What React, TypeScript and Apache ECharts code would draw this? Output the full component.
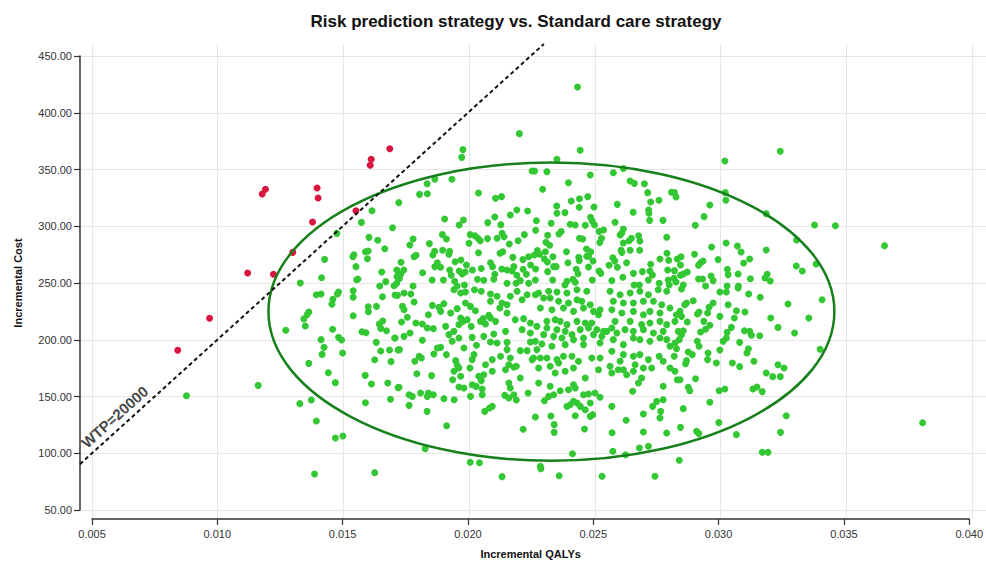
import React, { useEffect, useRef } from "react";
import * as echarts from "echarts";

const chartTitle = "Risk prediction strategy vs. Standard care strategy";
const xAxisName = "Incremental QALYs";
const yAxisName = "Incremental Cost";
const xTicks = { min: 0.005, max: 0.04, step: 0.005 };
const yTicks = { min: 50, max: 450, step: 50 };

const wtp = 20000;
const wtpLabel = "WTP=20000";
const wtpQalyRange = [0.00452, 0.02303];
const wtpLabelAt = [0.0059, 132];

// [centre QALY, centre cost, radius QALY, radius cost]
const ellipseParams = [0.02333, 224.8, 0.01129, 131.4];

const redPoints: number[][] = [
  [0.01688, 368.3], [0.01614, 359.0], [0.0161, 353.7], [0.01192, 332.6], [0.01179, 328.4],
  [0.01398, 333.7], [0.01402, 324.9], [0.01553, 313.7], [0.0138, 303.7], [0.01301, 277.0],
  [0.01121, 258.8], [0.01224, 257.7], [0.00969, 219.0], [0.00842, 190.7],
];

const greenLeft: number[][] = [
  [0.01617,313.7],[0.01575,303.4],[0.01699,298.7],[0.01477,293.7],[0.01605,290.2],[0.0164,287.6],[0.01668,280.2],[0.01428,270.8],[0.01545,274.9],[0.01541,273.2],[0.01591,277.6],[0.01602,278.2],[0.01599,271.4],[0.01553,264.4],[0.01656,259.7],[0.01416,254.7],[0.01331,250.0],[0.01556,252.9],[0.01561,253.5],[0.01672,251.2],[0.01648,247.3],[0.01705,247.6],[0.01717,255.6],[0.01542,243.2],[0.01484,242.1],[0.01479,240.3],[0.01461,235.6],[0.01457,231.2],[0.01395,239.7],[0.01414,240.3],[0.01659,237.9],[0.01709,239.4],[0.01542,237.4],[0.01635,229.4],[0.01602,229.1],[0.01603,224.7],[0.01365,224.4],[0.01358,222.1],[0.01345,218.3],[0.01351,212.1],[0.01542,221.2],[0.01273,208.3],[0.0146,209.2],[0.01577,207.1],[0.01593,206.2],[0.01646,213.9],[0.0166,216.5],[0.01652,210.0],[0.01675,208.0],[0.01708,201.5],[0.01721,190.9],[0.01414,200.1],[0.01484,202.1],[0.01496,199.8],[0.01634,197.7],[0.01652,190.1],[0.01687,190.9],[0.01426,193.3],[0.01418,187.1],[0.015,188.3],[0.01628,182.4],[0.01693,180.7],[0.01365,179.2],[0.01443,171.0],[0.0159,168.6],[0.01471,162.2],[0.01615,161.0],[0.0168,161.9],[0.01721,157.8],[0.01163,159.8],[0.00877,150.7],[0.01329,143.7],[0.01375,146.9],[0.01591,144.5],[0.01691,147.5],[0.01395,128.4],[0.01471,113.4],[0.01501,115.2],[0.01388,81.7],[0.01628,82.9],
];

const greenUpperMid: number[][] = [
  [0.02205,381.6],[0.0198,367.5],[0.01975,360.7],[0.01724,320.8],[0.02256,348.7],[0.01868,341.4],[0.01837,337.5],[0.01936,341.4],[0.01807,328.1],[0.01838,328.7],[0.02042,329.3],[0.0211,324.6],[0.02134,326.1],[0.01907,306.4],[0.01982,305.5],[0.01965,301.1],[0.02079,303.2],[0.02107,308.2],[0.02131,301.4],[0.02169,309.9],[0.02195,314.3],[0.02238,313.5],[0.02225,292.6],[0.01898,292.6],[0.01914,288.8],[0.01781,288.8],[0.01768,283.5],[0.01846,284.7],[0.02009,292.6],[0.02028,291.7],[0.0204,289.4],[0.02004,285.0],[0.02049,287.3],[0.02078,289.1],[0.02116,289.4],[0.02136,293.8],[0.02144,290.8],[0.02165,284.4],[0.022,287.3],[0.01867,277.9],[0.0186,274.7],[0.01899,278.8],[0.01927,277.9],[0.01924,275.3],[0.01785,273.2],[0.01793,274.4],[0.02042,276.7],[0.02128,276.2],[0.02139,277.6],[0.02179,272.6],[0.02219,270.6],[0.02242,273.2],[0.01733,268.2],[0.01878,267.9],[0.01868,264.4],[0.01891,263.8],[0.01949,268.8],[0.01972,270.3],[0.01994,265.9],[0.0209,267.9],[0.02098,264.4],[0.02135,262.4],[0.02156,261.5],[0.02176,260.6],[0.02183,264.4],[0.0222,262.1],[0.0225,265.9],[0.01716,261.5],[0.01744,261.5],[0.01732,258.0],[0.01727,254.1],[0.01819,259.1],[0.01927,261.5],[0.01933,256.8],[0.01965,260.6],[0.01989,259.7],[0.01977,258.0],[0.02018,261.5],[0.02053,262.7],[0.02107,257.7],[0.02195,256.8],[0.02209,252.1],[0.02233,257.7],[0.01857,252.7],[0.01902,252.7],[0.01947,251.5],[0.02038,253.3],[0.02063,252.4],[0.02103,253.3],[0.02156,249.7],[0.02192,249.7],[0.02242,249.7],[0.01716,249.7],[0.01781,247.4],[0.01957,247.4],[0.01986,248.3],
  [0.02437,422.7],[0.02448,366.9],[0.02355,359.0],[0.0262,350.8],[0.02266,348.7],[0.02315,348.1],[0.02488,345.2],[0.0258,347.2],[0.02401,338.4],[0.02647,339.9],[0.02664,337.8],[0.02704,337.5],[0.02298,332.6],[0.02717,329.6],[0.02812,329.9],[0.02478,326.1],[0.02445,324.3],[0.02412,322.3],[0.02729,321.4],[0.02762,322.9],[0.02354,317.9],[0.02355,311.4],[0.02444,316.7],[0.02503,317.0],[0.02596,319.3],[0.02387,312.0],[0.02659,312.3],[0.02721,314.3],[0.02722,311.4],[0.02489,307.9],[0.02496,304.7],[0.02505,301.1],[0.02725,305.2],[0.02778,305.2],[0.02273,304.9],[0.02587,303.5],[0.02332,302.6],[0.02408,301.7],[0.02428,301.1],[0.02468,300.8],[0.02541,296.7],[0.02523,295.5],[0.0262,297.6],[0.02614,294.1],[0.02607,292.3],[0.0227,296.4],[0.02363,293.2],[0.02372,295.3],[0.02793,290.3],[0.02318,292.0],[0.02445,289.4],[0.02458,288.8],[0.02681,291.7],[0.02686,287.0],[0.02652,289.4],[0.02643,287.3],[0.02533,289.4],[0.02526,285.6],[0.02311,285.9],[0.02326,283.2],[0.0262,285.3],[0.02393,277.6],[0.02473,280.0],[0.0249,277.6],[0.02611,278.8],[0.02614,277.0],[0.02647,278.8],[0.02685,278.8],[0.02794,276.2],[0.02277,278.5],[0.02286,275.3],[0.02265,274.7],[0.02309,277.6],[0.02442,272.6],[0.02474,273.5],[0.02481,273.5],[0.02339,273.2],[0.02578,272.3],[0.02766,271.2],[0.02801,270.0],[0.02305,271.2],[0.02317,268.5],[0.02499,269.4],[0.02399,267.9],[0.02444,269.7],[0.02563,265.6],[0.02586,269.4],[0.02633,267.9],[0.02729,266.5],[0.0227,262.4],[0.02318,260.0],[0.02342,264.4],[0.02352,264.4],[0.02432,262.1],[0.02439,258.2],[0.02481,264.1],[0.02523,260.6],[0.0253,258.5],[0.02596,263.8],[0.0266,258.5],[0.02696,260.0],[0.02726,260.6],[0.02736,257.1],[0.02797,261.5],[0.02269,252.7],[0.02338,252.7],[0.02395,251.5],[0.02419,253.3],[0.02428,250.6],[0.02496,252.7],[0.02574,252.1],[0.02618,255.0],[0.0272,252.7],[0.02763,249.7],[0.02799,252.7],[0.02803,248.3],[0.02663,248.3],[0.02684,248.3],[0.02387,248.3],
];

const greenUpperRight: number[][] = [
  [0.03246,366.0],[0.03025,357.5],[0.03027,329.6],[0.03029,322.9],[0.02824,329.6],[0.0283,325.8],[0.02965,318.8],[0.02942,308.5],[0.02907,300.8],[0.0319,311.1],[0.03311,287.9],[0.0303,285.3],[0.02972,281.7],[0.03075,282.6],[0.0309,277.3],[0.0319,279.1],[0.02904,275.3],[0.0285,273.2],[0.02835,271.2],[0.02998,270.6],[0.02938,269.4],[0.02928,267.9],[0.0292,265.6],[0.03124,271.2],[0.031,267.6],[0.02848,265.9],[0.0331,265.0],[0.03334,260.6],[0.03035,262.1],[0.02824,260.9],[0.02875,259.7],[0.02859,258.0],[0.02848,256.8],[0.0297,256.2],[0.02978,252.1],[0.03038,257.4],[0.03078,258.0],[0.03194,257.7],[0.03185,254.4],[0.03206,251.8],[0.03127,253.8],[0.0292,253.6],[0.02936,253.6],[0.02822,254.1],[0.0283,250.9],[0.03079,247.4],[0.02948,247.4],[0.02859,248.3],[0.03034,247.4],
  [0.03383,301.1],[0.03466,300.5],[0.03662,282.9],[0.03389,266.8],
];

const greenLowerMid: number[][] = [
  [0.01745,241.2],[0.01772,240.3],[0.01719,239.1],[0.01785,233.3],[0.01739,229.4],[0.01745,226.5],[0.01858,230.3],[0.01884,228.6],[0.01904,231.8],[0.01891,225.0],[0.01842,222.1],[0.01758,219.8],[0.01735,215.6],[0.01792,214.8],[0.01818,213.9],[0.01838,210.4],[0.01862,209.8],[0.01769,206.0],[0.01745,203.0],[0.01709,201.5],[0.01818,199.5],[0.01944,244.1],[0.01971,241.2],[0.0199,242.1],[0.02026,244.1],[0.02053,242.7],[0.0209,240.3],[0.02116,238.3],[0.0209,233.9],[0.0199,232.4],[0.0201,229.4],[0.0203,225.6],[0.01931,223.6],[0.01957,227.4],[0.01971,219.2],[0.0198,216.2],[0.01964,213.3],[0.01911,211.8],[0.01944,207.4],[0.01924,204.5],[0.01997,217.7],[0.02013,211.8],[0.0205,216.2],[0.0207,213.9],[0.02061,218.6],[0.02083,221.5],[0.0209,219.2],[0.02127,228.0],[0.02136,232.4],[0.02156,230.9],[0.02169,238.3],[0.02196,242.7],[0.02216,235.3],[0.02236,239.7],[0.02156,223.6],[0.02189,217.7],[0.02222,218.6],[0.02249,214.8],[0.0211,216.2],[0.0215,207.4],[0.02216,208.9],[0.02249,206.0],[0.02103,205.1],[0.02063,203.0],[0.02017,202.1],[0.01964,201.5],[0.01937,198.6],[0.02034,195.1],[0.0209,198.0],[0.02116,197.1],[0.02156,197.7],[0.02156,191.3],[0.02209,190.4],[0.02236,190.4],[0.02249,198.0],[0.01727,191.3],[0.01878,192.7],[0.01891,193.3],[0.01914,186.9],[0.01864,187.4],[0.01984,192.7],[0.01805,185.4],[0.01814,183.9],[0.01788,181.0],[0.02024,186.9],[0.02017,182.5],[0.0207,178.0],[0.02097,182.5],[0.0213,185.4],[0.02169,183.9],[0.02163,178.0],[0.02183,175.7],[0.02193,176.6],[0.02256,182.5],[0.01951,181.6],[0.01964,175.1],[0.01957,177.5],[0.02008,175.1],[0.01971,167.8],[0.01944,172.2],[0.02043,167.8],[0.02063,169.2],[0.02097,172.2],[0.0215,173.6],[0.01796,170.1],[0.01855,168.4],[0.01939,164.8],[0.02163,161.9],[0.02169,157.5],[0.02209,166.3],[0.01725,158.1],[0.01964,158.4],[0.01984,157.5],[0.02017,160.4],[0.02033,158.9],[0.02053,164.0],[0.02057,156.6],[0.02057,151.6],[0.0201,150.1],[0.01765,151.6],[0.01778,150.1],[0.01765,142.2],[0.01811,153.1],[0.01842,153.1],[0.01838,150.1],[0.01862,151.6],[0.01904,148.1],[0.01945,147.2],[0.02147,151.0],[0.02163,148.7],[0.02183,151.6],[0.02193,146.9],[0.0224,153.1],[0.02097,141.3],[0.02086,139.9],[0.02067,136.9],[0.01837,136.9],[0.01915,124.3],[0.0222,121.1],[0.01829,104.0],[0.02009,92.0],[0.02046,91.7],[0.02136,79.4],
  [0.02269,239.7],[0.02282,241.2],[0.02322,242.7],[0.02355,242.1],[0.02395,241.2],[0.02435,244.1],[0.02474,242.7],[0.02302,236.8],[0.02328,236.8],[0.02362,233.9],[0.02401,232.4],[0.02435,235.3],[0.02454,233.9],[0.02488,230.9],[0.02289,228.0],[0.02335,226.5],[0.02381,228.0],[0.02421,225.0],[0.02461,228.0],[0.02501,225.0],[0.02527,226.5],[0.02521,222.1],[0.02315,216.2],[0.02348,217.7],[0.02368,216.2],[0.02395,213.3],[0.02435,216.2],[0.02468,214.8],[0.02494,214.8],[0.02275,211.8],[0.02315,210.4],[0.02355,208.9],[0.02388,207.4],[0.02415,204.5],[0.02448,208.9],[0.02481,210.4],[0.02514,208.9],[0.02541,207.4],[0.02302,204.5],[0.02342,203.0],[0.02375,201.5],[0.02421,200.1],[0.02461,201.5],[0.02501,204.5],[0.02534,203.0],[0.02554,207.4],[0.02269,198.6],[0.02295,196.3],[0.02275,191.3],[0.02335,194.2],[0.02388,195.7],[0.02461,195.7],[0.02527,197.1],
  [0.02567,242.7],[0.02607,239.7],[0.02647,241.2],[0.02686,242.7],[0.0272,239.7],[0.02759,244.1],[0.02793,242.7],[0.0258,233.9],[0.0262,232.4],[0.0266,232.4],[0.027,233.9],[0.0274,233.9],[0.02773,230.9],[0.02806,228.0],[0.02574,226.5],[0.02614,223.6],[0.0266,225.0],[0.027,222.1],[0.02726,225.0],[0.02766,223.6],[0.02587,216.2],[0.02647,216.2],[0.02693,213.3],[0.02726,214.8],[0.02766,216.2],[0.02793,213.3],[0.02574,210.4],[0.02594,206.0],[0.02627,208.9],[0.0266,207.4],[0.027,208.9],[0.0274,206.0],[0.02779,207.4],[0.0258,200.1],[0.0262,195.7],[0.0266,201.5],[0.02686,200.1],[0.02726,198.6],[0.02766,201.5],[0.02793,200.1],[0.02574,189.8],[0.0262,186.9],[0.0266,185.4],[0.02686,186.9],[0.0272,182.5],[0.02763,185.4],[0.02806,194.2],
  [0.02262,183.9],[0.02289,183.9],[0.02315,183.9],[0.02355,182.5],[0.02381,185.4],[0.02415,185.4],[0.02441,181.0],[0.02282,175.1],[0.02328,176.6],[0.02362,179.5],[0.02421,175.1],[0.02388,172.2],[0.02348,170.7],[0.02494,183.9],[0.02527,183.9],[0.02567,176.6],[0.02607,181.0],[0.0262,173.6],[0.02633,169.2],[0.02574,170.7],[0.026,173.6],[0.02521,173.6],[0.02667,178.0],[0.027,175.1],[0.02693,166.3],[0.0268,161.9],[0.0266,172.2],[0.02733,175.1],[0.02779,181.0],[0.02806,175.1],[0.02468,166.3],[0.02282,161.9],
  [0.02421,160.4],[0.02428,157.5],[0.02401,156.0],[0.02368,155.1],[0.02328,159.0],[0.02322,150.1],[0.02342,151.6],[0.02305,146.3],[0.02461,151.6],[0.02481,152.2],[0.02507,153.1],[0.02527,149.3],[0.02488,144.3],[0.02435,144.3],[0.02448,141.3],[0.02395,141.3],[0.02408,142.8],[0.02421,145.7],[0.02574,141.3],[0.02657,154.6],[0.02779,159.0],[0.02779,147.2],[0.02753,145.7],[0.02737,141.3],[0.02468,138.4],[0.02498,134.0],[0.02488,132.5],[0.02428,133.1],[0.02269,131.9],[0.02331,132.8],[0.02344,125.2],[0.02344,118.4],[0.027,134.6],[0.02769,136.9],[0.02766,131.1],[0.02631,129.0],[0.02465,121.4],[0.02575,118.1],[0.027,118.7],[0.02793,117.8],[0.02417,99.6],[0.02578,101.7],[0.02629,98.7],[0.02684,104.6],[0.0272,106.1],[0.02289,88.5],[0.02291,86.4],[0.02364,80.2],[0.02535,79.7],[0.02746,79.7],
];

const greenLowerRight: number[][] = [
  [0.02852,244.7],[0.02899,234.4],[0.02872,232.4],[0.02865,230.9],[0.03005,242.1],[0.03031,242.1],[0.03078,245.6],[0.0312,240.3],[0.03166,237.4],[0.03277,231.5],[0.0336,219.2],[0.03208,219.2],[0.03237,210.9],[0.03303,205.9],[0.02846,225.0],[0.02832,222.1],[0.02852,220.6],[0.02826,216.2],[0.02875,215.6],[0.02916,222.7],[0.02922,224.5],[0.02956,223.6],[0.02962,228.6],[0.02978,232.4],[0.02941,216.2],[0.02965,212.7],[0.02948,209.2],[0.02928,206.8],[0.03005,220.6],[0.03038,230.9],[0.03071,225.6],[0.03063,219.2],[0.03105,224.5],[0.03051,210.9],[0.03034,206.5],[0.03031,201.5],[0.03018,198.6],[0.03103,208.0],[0.03124,207.4],[0.03131,203.9],[0.03164,203.6],[0.02839,207.4],[0.02859,208.0],[0.02852,204.5],[0.02843,200.1],[0.02826,197.1],[0.02832,192.1],[0.02823,185.4],[0.02915,198.6],[0.02922,194.2],[0.03005,191.0],[0.03084,197.7],[0.03119,192.1],[0.03113,188.3],[0.02958,188.3],[0.02956,182.5],[0.02879,189.2],[0.02895,186.9],[0.02872,181.6],[0.02868,178.9],[0.02991,179.5],[0.03055,179.5],[0.03084,176.3],[0.03141,181.0],[0.0319,170.7],[0.03216,167.5],[0.03246,167.5],[0.03237,178.0],[0.03261,175.1],[0.02826,172.2],[0.02835,164.8],[0.02846,164.8],[0.02908,165.7],[0.02879,158.1],[0.02885,155.1],[0.03002,155.1],[0.03025,156.6],[0.03137,156.6],[0.03153,158.4],[0.03174,154.3],[0.02859,139.3],[0.02965,144.9],[0.0327,133.1],[0.02848,122.8],[0.03001,127.0],[0.02912,119.3],[0.02921,117.3],[0.03071,116.4],[0.03247,118.4],[0.03174,100.8],[0.03197,100.8],[0.02843,93.8],
  [0.03413,235.3],[0.03405,191.6],[0.03814,126.9],
];

const greenPoints = [
  ...greenLeft,
  ...greenUpperMid,
  ...greenUpperRight,
  ...greenLowerMid,
  ...greenLowerRight,
];

const FONT = "Arial, 'Liberation Sans', sans-serif";
const GRID_COLOR = "#e6e6e6";
const AXIS_COLOR = "#333";

export default function App() {
  const ref = useRef<HTMLDivElement>(null);

  useEffect(() => {
    if (!ref.current) return;
    const chart = echarts.init(ref.current, null, { renderer: "svg" });
    const wtpLine = wtpQalyRange.map((q) => [q, q * wtp]);

    const option: any = {
      animation: false,
      backgroundColor: "#ffffff",
      title: {
        text: chartTitle,
        left: 511,
        top: 8,
        textAlign: "center",
        textStyle: { fontFamily: FONT, fontSize: 17, fontWeight: "bold", color: "#111" },
      },
      grid: [
        { left: 92, right: 14, top: 56, bottom: 54 },
        { left: 80, right: 0, top: 56, bottom: 54 },
        { left: 92, right: 14, top: 44, bottom: 45 },
      ],
      xAxis: [
        {
          type: "value",
          gridIndex: 0,
          min: xTicks.min,
          max: xTicks.max,
          interval: xTicks.step,
          offset: 9,
          name: xAxisName,
          nameLocation: "middle",
          nameGap: 29,
          nameTextStyle: { fontFamily: FONT, fontSize: 11, fontWeight: "bold", color: "#111" },
          axisLine: { show: true, onZero: false, lineStyle: { color: AXIS_COLOR, width: 1.5 } },
          axisTick: { show: true, length: 6, lineStyle: { color: AXIS_COLOR, width: 1.2 } },
          axisLabel: {
            formatter: (v: number) => v.toFixed(3),
            fontFamily: FONT,
            fontSize: 11,
            color: "#333",
            margin: 9,
          },
          splitLine: { show: false },
        },
        { type: "value", gridIndex: 1, min: 0, max: 1, show: false },
        {
          type: "value",
          gridIndex: 2,
          min: xTicks.min,
          max: xTicks.max,
          interval: xTicks.step,
          axisLine: { show: false },
          axisTick: { show: false },
          axisLabel: { show: false },
          splitLine: { show: true, lineStyle: { color: GRID_COLOR, width: 1 } },
        },
      ],
      yAxis: [
        {
          type: "value",
          gridIndex: 0,
          min: yTicks.min,
          max: yTicks.max,
          interval: yTicks.step,
          offset: 12,
          name: yAxisName,
          nameLocation: "middle",
          nameGap: 57,
          nameTextStyle: { fontFamily: FONT, fontSize: 11, fontWeight: "bold", color: "#111" },
          axisLine: { show: true, onZero: false, lineStyle: { color: AXIS_COLOR, width: 1.5 } },
          axisTick: { show: true, length: 6, lineStyle: { color: AXIS_COLOR, width: 1.2 } },
          axisLabel: {
            formatter: (v: number) => v.toFixed(2),
            fontFamily: FONT,
            fontSize: 11,
            color: "#333",
            margin: 8,
          },
          splitLine: { show: false },
        },
        {
          type: "value",
          gridIndex: 1,
          min: yTicks.min,
          max: yTicks.max,
          interval: yTicks.step,
          axisLine: { show: false },
          axisTick: { show: false },
          axisLabel: { show: false },
          splitLine: { show: true, lineStyle: { color: GRID_COLOR, width: 1 } },
        },
        { type: "value", gridIndex: 2, min: 0, max: 1, show: false },
      ],
      series: [
        {
          name: "green",
          type: "scatter",
          xAxisIndex: 0,
          yAxisIndex: 0,
          data: greenPoints,
          symbolSize: 7,
          clip: false,
          itemStyle: { color: "#33c833", opacity: 1 },
          z: 3,
        },
        {
          name: "red",
          type: "scatter",
          xAxisIndex: 0,
          yAxisIndex: 0,
          data: redPoints,
          symbolSize: 7,
          clip: false,
          itemStyle: { color: "#d8163f", opacity: 1 },
          z: 3,
        },
        {
          name: "ellipse",
          type: "custom",
          xAxisIndex: 0,
          yAxisIndex: 0,
          data: [ellipseParams],
          encode: { x: 0, y: 1 },
          clip: false,
          z: 4,
          renderItem: (_params: any, api: any) => {
            const c = api.coord([api.value(0), api.value(1)]);
            const s = api.size([api.value(2), api.value(3)]);
            return {
              type: "ellipse",
              shape: { cx: c[0], cy: c[1], rx: s[0], ry: s[1] },
              style: { fill: "none", stroke: "#16801a", lineWidth: 2.5 },
            };
          },
        },
        {
          name: "wtp",
          type: "custom",
          xAxisIndex: 0,
          yAxisIndex: 0,
          data: [[wtpLine[0][0], wtpLine[0][1], wtpLine[1][0], wtpLine[1][1]]],
          encode: { x: [0, 2], y: [1, 3] },
          clip: false,
          z: 5,
          renderItem: (_params: any, api: any) => {
            const a = api.coord([api.value(0), api.value(1)]);
            const b = api.coord([api.value(2), api.value(3)]);
            return {
              type: "line",
              shape: { x1: a[0], y1: a[1], x2: b[0], y2: b[1] },
              style: { stroke: "#111", lineWidth: 2, lineDash: [4, 3], fill: "none" },
            };
          },
        },
        {
          name: "wtpLabel",
          type: "scatter",
          xAxisIndex: 0,
          yAxisIndex: 0,
          data: [wtpLabelAt],
          symbolSize: 0,
          clip: false,
          z: 6,
          label: {
            show: true,
            position: "inside",
            formatter: wtpLabel,
            rotate: 42,
            fontFamily: FONT,
            fontSize: 15,
            fontWeight: "bold",
            color: "#111",
          },
        },
      ],
    };

    chart.setOption(option);
    return () => chart.dispose();
  }, []);

  return (
    <div
      ref={ref}
      style={{ position: "absolute", left: 0, top: 0, width: 986, height: 564, background: "#fff" }}
    />
  );
}
